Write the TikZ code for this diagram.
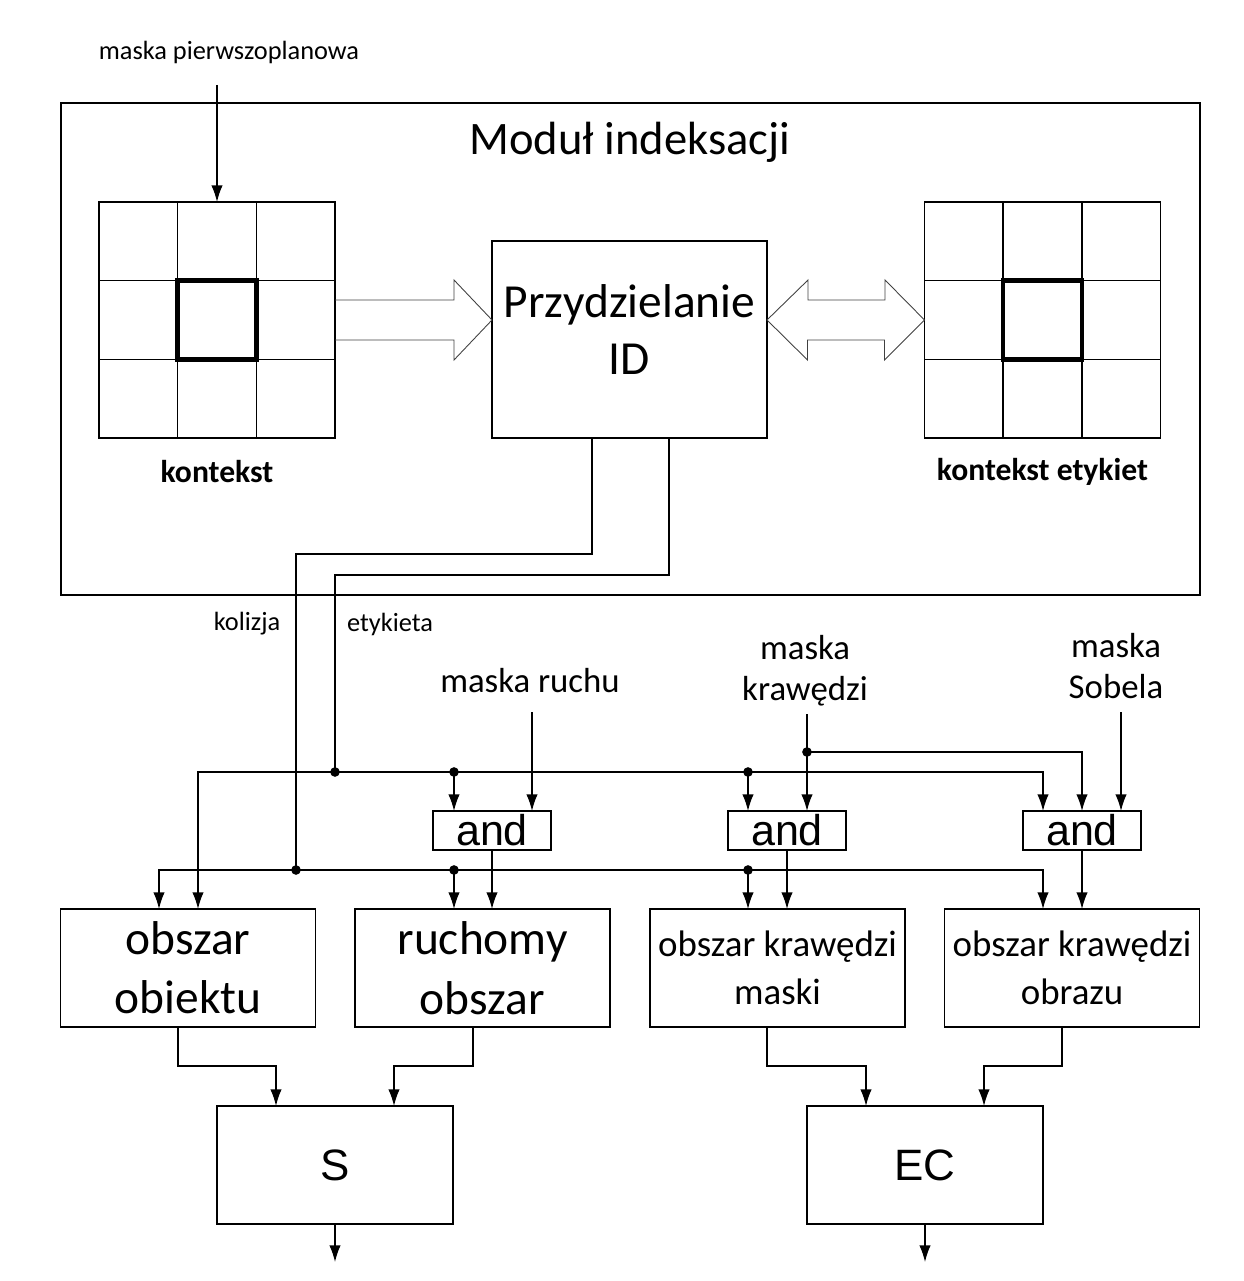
\documentclass[tikz,border=0pt]{standalone}
\usepackage{fontspec}
\setmainfont{Carlito}
\newfontfamily\arialfont{Liberation Sans}
\usetikzlibrary{arrows.meta}

\begin{document}
\begin{tikzpicture}[
    x=0.2mm, y=-0.2mm,
    box/.style={draw, line width=0.8pt, inner sep=0pt, outer sep=0pt, align=center},
    gate/.style={box, minimum width=23.6mm, minimum height=7.8mm, font=\arialfont\fontsize{24.5}{28}\selectfont},
    block/.style={box, minimum width=51mm, minimum height=23.6mm},
    wire/.style={line width=0.8pt},
    edge/.style={wire, -{Latex[length=9.5pt, width=6.5pt]}},
    hollow/.style={draw=black!75, line width=0.5pt, line join=miter},
    dot/.style={circle, fill, inner sep=0pt, minimum size=5.5pt},
    small/.style={font=\fontsize{15}{18}\selectfont},
    lbl/.style={align=center, font=\fontsize{19.8}{23.5}\selectfont},
    ctxlabel/.style={font=\bfseries\fontsize{18}{21}\selectfont}
  ]
  \useasboundingbox (0,0) rectangle (1243,1281);

  % Indexing module
  \node[box, minimum width=227.8mm, minimum height=98.4mm] (modul) at (630.5,349) {};
  \node[font=\fontsize{26.5}{30}\selectfont] (tytul) at (630,142) {Moduł indeksacji};

  \foreach \n/\x/\t in {ctx/217/kontekst, lab/1042.5/kontekst etykiet}{
    \node[box, minimum size=47.2mm] (\n) at (\x,320) {};
    \node[box, minimum size=15.8mm, line width=2.6pt] (\n-c) at (\n) {};
    \draw[wire] (\n.north -| \n-c.west) -- (\n.south -| \n-c.west)
                (\n.north -| \n-c.east) -- (\n.south -| \n-c.east)
                (\n.west |- \n-c.north) -- (\n.east |- \n-c.north)
                (\n.west |- \n-c.south) -- (\n.east |- \n-c.south);
    \node[ctxlabel] (\n-t) at ([yshift=-6.8mm]\n.south) {\t};
  }

  \node[box, minimum width=55mm, minimum height=39.4mm] (prz) at (629.5,339.5) {};
  \node[font=\fontsize{27}{32}\selectfont, align=center] (prz-t) at ([yshift=2mm]prz.center) {Przydzielanie\\ID};

  \draw[hollow] (ctx.east) ++(0,-20) -- ++(119,0) -- ++(0,-20) -- (prz.west |- ctx.east)
    -- ++(-38,40) -- ++(0,-20) -- ++(-119,0);
  \draw[hollow] (prz.east |- ctx.east) -- ++(41,-40) -- ++(0,20) -- ++(77,0) -- ++(0,-20)
    -- (lab.west) -- ++(-40,40) -- ++(0,-20) -- ++(-77,0) -- ++(0,20) -- cycle;

  \node[small] (mfg) at (229,52) {maska pierwszoplanowa};
  \coordinate (mfg-in) at (217,85);
  \draw[edge] (mfg-in) -- (ctx.north);

  % gates and blocks
  \node[gate] (andr) at (492,830.5) {and};
  \node[gate] (andk) at (787,830.5) {and};
  \node[gate] (ands) at (1082,830.5) {and};

  \node[block, font=\fontsize{27}{33.5}\selectfont] (obiekt) at (188,968) {obszar\\obiektu};
  \node[block, font=\fontsize{27}{34}\selectfont] (ruch) at (482.5,968) {ruchomy\\obszar};
  \node[block, font=\fontsize{21}{27}\selectfont] (kmaski) at (777.5,968) {obszar krawędzi\\maski};
  \node[block, font=\fontsize{21}{27}\selectfont] (kobrazu) at (1072,968) {obszar krawędzi\\obrazu};

  \node[box, minimum width=47.2mm, minimum height=23.6mm, font=\arialfont\fontsize{25}{30}\selectfont] (S) at (335,1165) {S};
  \node[box, minimum width=47.2mm, minimum height=23.6mm, font=\arialfont\fontsize{25}{30}\selectfont] (EC) at (925,1165) {EC};

  % labels of the inputs
  \node[small] (kolizja) at (247,624) {kolizja};
  \node[small] (etykieta) at (390,624) {etykieta};
  \node[lbl] (mruch) at (530,681) {maska ruchu};
  \node[lbl] (mkraw) at (805,671) {maska\\krawędzi};
  \node[lbl] (msob) at (1116,666) {maska\\Sobela};

  \coordinate (kol) at (296,870);
  \coordinate (ety) at (335,772);
  \coordinate (t1) at (454,772);
  \coordinate (t2) at (748,772);
  \coordinate (t3) at (454,870);
  \coordinate (t4) at (748,870);
  \coordinate (kr) at (807,752);
  \coordinate (mruch-in) at (532,712);
  \coordinate (mkraw-in) at (807,714);
  \coordinate (msob-in) at (1121,712);
  \coordinate (S-out) at (335,1262);
  \coordinate (EC-out) at (925,1262);

  % collision and label lines
  \draw[wire] ([xshift=-7.5mm]prz.south) -- ++(0,116) -| (kol);
  \draw[wire] ([xshift=7.9mm]prz.south) -- ++(0,137) -| (ety);

  \draw[edge] (ety) -| ([xshift=2mm]obiekt.north);
  \draw[edge] (ety) -| ([xshift=-7.8mm]ands.north);
  \draw[edge] (kol) -| ([xshift=-5.8mm]obiekt.north);
  \draw[edge] (kol) -| ([xshift=-5.8mm]kobrazu.north);

  \foreach \t/\n in {t1/andr, t2/andk, t3/ruch, t4/kmaski}
    \draw[edge] (\t) -- (\t |- \n.north);

  \draw[edge] (mruch-in) -- (mruch-in |- andr.north);
  \draw[edge] (mkraw-in) -- (mkraw-in |- andk.north);
  \draw[edge] (kr) -| (ands.north);
  \draw[edge] (msob-in) -- (msob-in |- ands.north);

  \foreach \g/\n in {andr/ruch, andk/kmaski, ands/kobrazu}
    \draw[edge] (\g.south) -- (\g.south |- \n.north);

  \foreach \t in {ety, kol, t1, t2, t3, t4, kr}
    \node[dot] at (\t) {};

  % to S and EC
  \draw[edge] ([xshift=-2mm]obiekt.south) -- ++(0,39) -| ([xshift=-11.8mm]S.north);
  \draw[edge] ([xshift=-1.9mm]ruch.south) -- ++(0,39) -| ([xshift=11.8mm]S.north);
  \draw[edge] ([xshift=-2.1mm]kmaski.south) -- ++(0,39) -| ([xshift=-11.8mm]EC.north);
  \draw[edge] ([xshift=-2mm]kobrazu.south) -- ++(0,39) -| ([xshift=11.8mm]EC.north);
  \draw[edge] (S.south) -- (S-out);
  \draw[edge] (EC.south) -- (EC-out);
\end{tikzpicture}
\end{document}
